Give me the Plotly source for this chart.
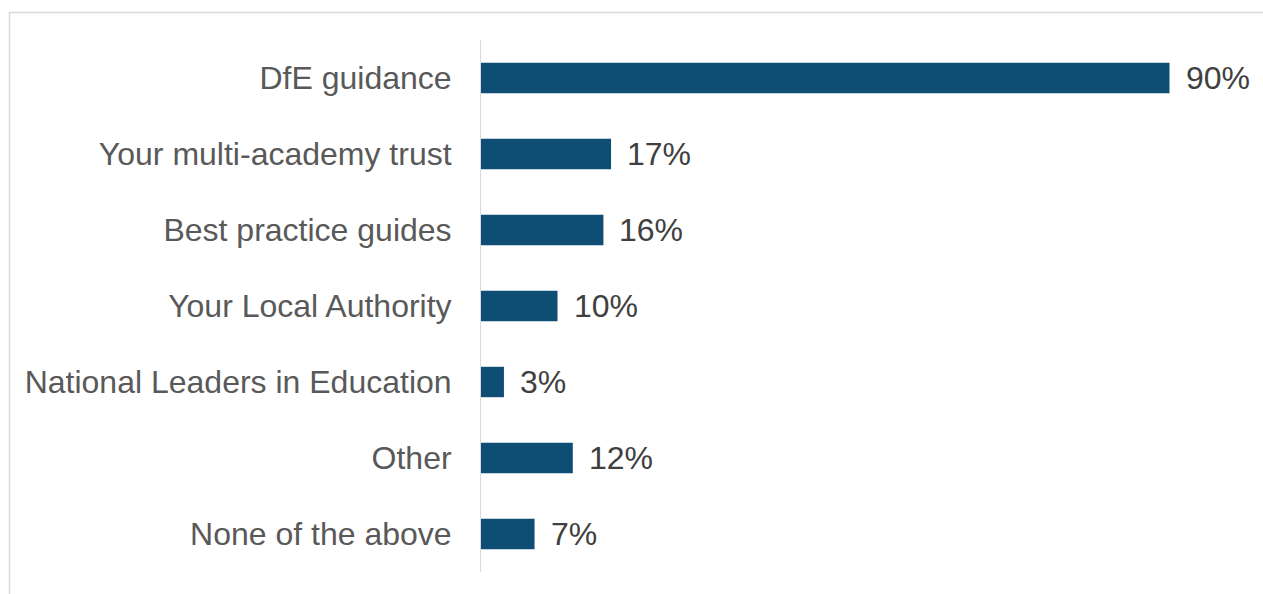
import plotly.graph_objects as go

categories = [
    "DfE guidance",
    "Your multi-academy trust",
    "Best practice guides",
    "Your Local Authority",
    "National Leaders in Education",
    "Other",
    "None of the above",
]
values = [90, 17, 16, 10, 3, 12, 7]
value_labels = ["90%", "17%", "16%", "10%", "3%", "12%", "7%"]

W, H = 1263, 594
ml, mr, mt, mb = 481, 17, 40, 22
pw = W - ml - mr
ph = H - mt - mb
FONT = "Liberation Sans, Arial, sans-serif"

fig = go.Figure(
    go.Bar(
        x=values,
        y=categories,
        orientation="h",
        marker=dict(color="#0f4e74", line=dict(width=0)),
        hoverinfo="skip",
    )
)

annotations = [
    dict(
        x=v, y=c, xref="x", yref="y", text=t, showarrow=False,
        xanchor="left", xshift=14,
        font=dict(family=FONT, size=32, color="#404040"),
    )
    for v, c, t in zip(values, categories, value_labels)
]

# outer frame of the chart area
def px_to_paper_x(px):
    return (px - ml) / pw

def px_to_paper_y(py):
    return (H - mb - py) / ph

fig.update_layout(
    width=W, height=H,
    margin=dict(l=ml, r=mr, t=mt, b=mb),
    paper_bgcolor="white", plot_bgcolor="white",
    bargap=0.6,
    showlegend=False,
    font=dict(family=FONT, size=32, color="#595959"),
    xaxis=dict(range=[0, 100], visible=False, fixedrange=True),
    yaxis=dict(
        categoryorder="array", categoryarray=categories[::-1],
        showline=True, linecolor="#d9d9d9", linewidth=1,
        showgrid=False, zeroline=False, ticks="",
        ticklabelstandoff=22,
        tickfont=dict(family=FONT, size=32, color="#595959"),
        fixedrange=True,
    ),
    annotations=annotations,
    shapes=[
        dict(
            type="rect", xref="paper", yref="paper",
            x0=px_to_paper_x(9.5), x1=px_to_paper_x(1275),
            y0=px_to_paper_y(605), y1=px_to_paper_y(12.5),
            line=dict(color="#d9d9d9", width=1.5), fillcolor="rgba(0,0,0,0)",
            layer="below",
        )
    ],
)

fig.write_html("out.html", config={"displayModeBar": False})
